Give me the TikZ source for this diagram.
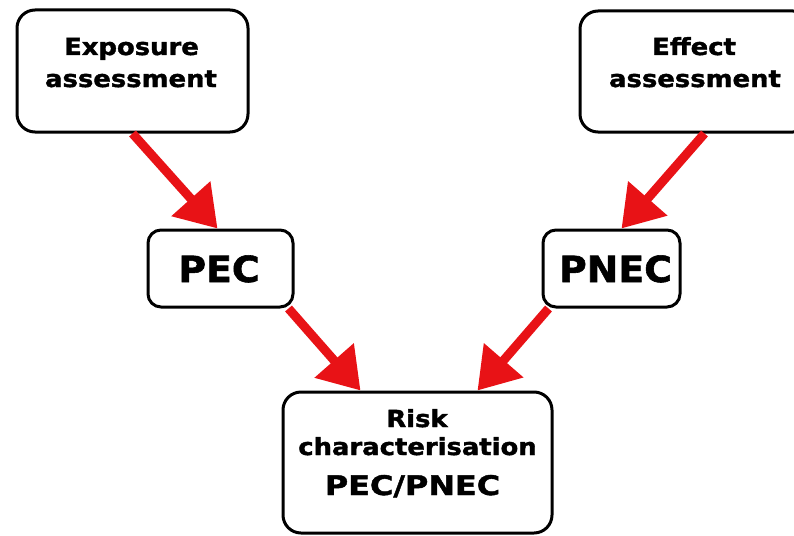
\documentclass[tikz,border=0pt]{standalone}
\usepackage{fontspec}
\usetikzlibrary{arrows.meta}
% Heavy sans labels, slightly widened and emboldened
\newfontfamily\lblsmall{DejaVu Sans}[FakeStretch=1.10, FakeBold=1.6]
\newfontfamily\lblbig{DejaVu Sans}[FakeStretch=1.05, FakeBold=1.6]
\newfontfamily\lblwide{DejaVu Sans}[FakeStretch=1.18, FakeBold=1.6]
\definecolor{arrowred}{RGB}{232,18,22}
\tikzset{
  box/.style={draw=black, line width=3pt, rounded corners=18pt, inner sep=0pt},
  smallbox/.style={box, rounded corners=13pt},
  smalltxt/.style={anchor=base, inner sep=0pt, font=\lblsmall\bfseries\fontsize{23.5}{28}\selectfont},
  bigtxt/.style={anchor=base, inner sep=0pt, font=\lblbig\bfseries\fontsize{36}{40}\selectfont},
  widetxt/.style={anchor=base, inner sep=0pt, font=\lblwide\bfseries\fontsize{27}{30}\selectfont},
  flow/.style={draw=arrowred, line width=9pt, -{Triangle[length=40pt,width=50pt]}}
}
\begin{document}
\begin{tikzpicture}[x=1pt, y=-1pt]
  \useasboundingbox (0,0) rectangle (794,535);

  % boxes
  \node[box, minimum width=231pt, minimum height=122pt] (expo) at (132.5,71) {};
  \node[box, minimum width=231pt, minimum height=121pt] (effect) at (695.5,71.5) {};
  \node[smallbox, minimum width=145pt, minimum height=77pt] (pec) at (220.5,268.5) {};
  \node[smallbox, minimum width=137pt, minimum height=77pt] (pnec) at (611.5,268.5) {};
  \node[box, minimum width=269pt, minimum height=141pt] (risk) at (417.5,462.5) {};

  % labels
  \node[smalltxt] (expoA) at (131.5,55) {Exposure};
  \node[smalltxt] (expoB) at (131,87) {assessment};
  \node[smalltxt] (effA) at (694,55) {Effect};
  \node[smalltxt] (effB) at (695,87) {assessment};
  \node[bigtxt] (pecT) at (219,282) {PEC};
  \node[bigtxt] (pnecT) at (615.5,282) {PNEC};
  \node[smalltxt] (riskA) at (417,427) {Risk};
  \node[smalltxt] (riskB) at (417.5,455) {characterisation};
  \node[widetxt] (riskC) at (412.5,495) {PEC/PNEC};

  % flow arrows
  \draw[flow] (expo.south) -- ([xshift=-3pt]pec.north);
  \draw[flow] ([xshift=9pt]effect.south) -- ([xshift=10pt]pnec.north);
  \draw[flow] ([xshift=-6pt]pec.south east) -- ([xshift=-57pt]risk.north);
  \draw[flow] ([xshift=7pt]pnec.south west) -- ([xshift=60pt]risk.north);
\end{tikzpicture}
\end{document}
